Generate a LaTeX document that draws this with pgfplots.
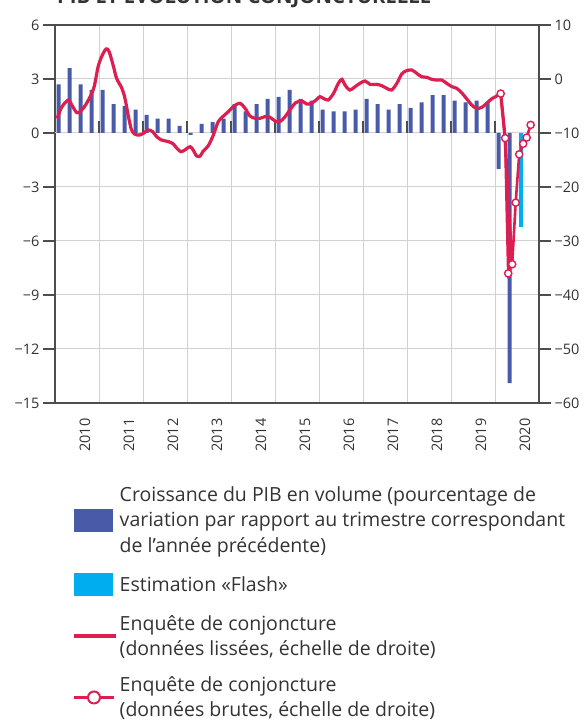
\documentclass[border=0pt]{standalone}
\usepackage{fontspec}
\setmainfont{Open Sans}
\usepackage{pgfplots}
\pgfplotsset{compat=1.18}
\usepackage{pgfplotstable}
\definecolor{barblue}{RGB}{72,90,168}
\definecolor{flashblue}{RGB}{0,174,239}
\definecolor{crimson}{RGB}{220,30,80}
\definecolor{gridgray}{RGB}{210,210,210}
\definecolor{axisgray}{RGB}{77,77,77}
\definecolor{textgray}{RGB}{51,51,51}

\pgfplotstableread{
t v
2010.084 2.7
2010.334 3.6
2010.584 2.7
2010.834 2.4
2011.084 2.4
2011.334 1.6
2011.584 1.5
2011.834 1.3
2012.084 1.0
2012.334 0.8
2012.584 0.8
2012.834 0.4
2013.084 -0.1
2013.334 0.5
2013.584 0.6
2013.834 0.8
2014.084 1.6
2014.334 1.2
2014.584 1.6
2014.834 1.9
2015.084 2.0
2015.334 2.4
2015.584 1.9
2015.834 1.8
2016.084 1.3
2016.334 1.2
2016.584 1.2
2016.834 1.3
2017.084 1.9
2017.334 1.6
2017.584 1.3
2017.834 1.6
2018.084 1.4
2018.334 1.7
2018.584 2.1
2018.834 2.1
2019.084 1.8
2019.334 1.7
2019.584 1.8
2019.834 1.7
2020.084 -2.0
2020.334 -13.9
}\gdp

\pgfplotstableread{
t v
2020.584 -5.2
}\flash

\pgfplotstableread{
t v
2010.05 -7.3
2010.15 -5.25
2010.30 -3.9
2010.38 -4.8
2010.49 -6.2
2010.57 -6.05
2010.68 -5.0
2010.80 -3.27
2010.89 -1.42
2010.98 2.28
2011.06 4.14
2011.16 5.56
2011.23 5.06
2011.33 2.28
2011.40 0.12
2011.52 -1.73
2011.59 -3.58
2011.67 -6.98
2011.74 -9.44
2011.82 -10.25
2011.92 -10.37
2012.01 -10.06
2012.12 -9.44
2012.22 -9.75
2012.31 -10.68
2012.42 -11.3
2012.58 -11.6
2012.69 -12.04
2012.77 -12.84
2012.86 -13.46
2012.95 -13.15
2013.07 -12.53
2013.14 -13.15
2013.22 -14.26
2013.30 -14.26
2013.37 -13.33
2013.48 -12.4
2013.60 -10.37
2013.71 -7.9
2013.83 -6.85
2013.94 -6.05
2014.05 -5.12
2014.20 -4.5
2014.32 -5.43
2014.43 -6.85
2014.55 -7.28
2014.66 -7.28
2014.77 -6.98
2014.89 -7.1
2015.00 -7.78
2015.11 -7.9
2015.23 -6.98
2015.34 -5.7
2015.47 -4.4
2015.61 -4.07
2015.72 -4.63
2015.83 -4.5
2015.95 -3.77
2016.02 -3.27
2016.10 -3.58
2016.21 -3.89
2016.33 -2.65
2016.44 -0.8
2016.52 -0.06
2016.59 -1.11
2016.70 -2.04
2016.82 -1.42
2016.93 -0.8
2017.05 -0.37
2017.16 -0.99
2017.31 -0.99
2017.42 -1.23
2017.54 -1.73
2017.65 -2.04
2017.77 -0.8
2017.88 0.93
2017.99 1.54
2018.11 1.67
2018.22 1.05
2018.33 0.43
2018.45 0.31
2018.56 -0.06
2018.67 -0.19
2018.79 -0.19
2018.90 -0.8
2019.02 -1.42
2019.13 -1.73
2019.24 -2.53
2019.36 -3.7
2019.47 -4.81
2019.58 -5.43
2019.70 -5.25
2019.81 -4.5
2019.92 -3.7
2020.04 -3.15
2020.13 -2.7
}\smoothed

\pgfplotstableread{
t v
2020.13 -2.7
2020.23 -10.95
2020.31 -24.0
2020.39 -34.3
}\smootheddrop

\pgfplotstableread{
t v
2020.13 -2.7
2020.23 -10.95
2020.30 -36.0
2020.39 -34.3
2020.47 -22.9
2020.55 -13.95
2020.64 -12.0
2020.72 -10.85
2020.81 -8.5
}\raw

\begin{document}
\begin{tikzpicture}
\useasboundingbox (0,0) rectangle (584bp,722bp);
\node[anchor=base west, inner sep=0pt, font=\fontsize{20.3bp}{22bp}\selectfont\bfseries, text=textgray] at (57bp,718bp) {PIB ET ÉVOLUTION CONJONCTURELLE};
\pgfplotsset{
  common/.style={
    at={(55bp,319bp)}, anchor=south west,
    scale only axis, width=484bp, height=378bp,
    xmin=2010, xmax=2021,
    tick align=outside,
    major tick length=12bp,
    axis line style={draw=axisgray, line width=1.3bp},
    ytick style={draw=axisgray, line width=1.2bp},
    ticklabel style={font=\fontsize{14.5bp}{17bp}\selectfont, text=textgray},
  }
}
\begin{axis}[common,
  ymin=-15, ymax=6,
  ytick={-15,-12,-9,-6,-3,0,3,6},
  yticklabels={−15,−12,−9,−6,−3,0,3,6},
  ytick pos=left,
  xtick={2010.5,2011.5,2012.5,2013.5,2014.5,2015.5,2016.5,2017.5,2018.5,2019.5,2020.5},
  xticklabels={2010,2011,2012,2013,2014,2015,2016,2017,2018,2019,2020},
  xticklabel style={rotate=90, anchor=east, yshift=-8bp},
  xtick style={draw=none},
  minor xtick={2011,2012,2013,2014,2015,2016,2017,2018,2019,2020},
  minor tick length=0pt,
  xminorgrids, ymajorgrids,
  minor grid style={draw=gridgray, line width=1bp},
  major grid style={draw=gridgray, line width=1bp},
  extra y ticks={0}, extra y tick labels={},
  extra y tick style={major tick length=0pt, grid style={draw=axisgray, line width=1.3bp}},
]
\addplot[ybar, bar width=4bp, bar shift=0pt, fill=barblue, draw=none] table[x=t, y=v] {\gdp};
\addplot[ybar, bar width=4bp, bar shift=0pt, fill=flashblue, draw=none] table[x=t, y=v] {\flash};
\pgfplotsinvokeforeach{2011,2012,2013,2014,2015,2016,2017,2018,2019,2020}{
  \draw[axisgray, line width=1.2bp] (axis cs:#1,0) -- (axis cs:#1,0.67);
}
\end{axis}
\begin{axis}[common,
  ymin=-60, ymax=10,
  axis x line=none, axis y line*=right,
  ytick={-60,-50,-40,-30,-20,-10,0,10},
  yticklabels={−60,−50,−40,−30,−20,−10,0,10},
  legend cell align=left,
  legend style={at={(axis description cs:0.0352,-0.22)}, anchor=north west,
    draw=none, fill=none, inner sep=0pt,
    font=\fontsize{19.5bp}{25.5bp}\selectfont, text=textgray,
    row sep=19.5bp, column sep=2bp,
    cells={anchor=west, align=left},
    nodes={inner sep=0pt}},
]
\addlegendimage{legend image code/.code={\fill[barblue] (0bp,-11bp) rectangle (38bp,11bp);}}
\addlegendentry{Croissance du PIB en volume (pourcentage de\\variation par rapport au trimestre correspondant\\de l’année précédente)}
\addlegendimage{legend image code/.code={\fill[flashblue] (0bp,-11bp) rectangle (38bp,11bp);}}
\addlegendentry{Estimation «Flash»}
\addplot[crimson, line width=3.2bp, smooth, tension=0.5, no markers,
  legend image code/.code={\draw[crimson, line width=3.5bp] (0bp,0bp) -- (42bp,0bp);}]
  table[x=t, y=v] {\smoothed};
\addlegendentry{Enquête de conjoncture\\(données lissées, échelle de droite)}
\addplot[crimson, line width=2.6bp, mark=*, mark size=3.6bp,
  mark options={fill=white, draw=crimson, line width=1.4bp},
  legend image code/.code={\draw[crimson, line width=2.5bp] (0bp,0bp) -- (40bp,0bp); \draw[crimson, line width=2bp, fill=white] (20bp,0bp) circle (6bp);}]
  table[x=t, y=v] {\raw};
\addlegendentry{Enquête de conjoncture\\(données brutes, échelle de droite)}
\addplot[crimson, line width=3.2bp, no markers, forget plot] table[x=t, y=v] {\smootheddrop};
\end{axis}
\end{tikzpicture}
\end{document}
